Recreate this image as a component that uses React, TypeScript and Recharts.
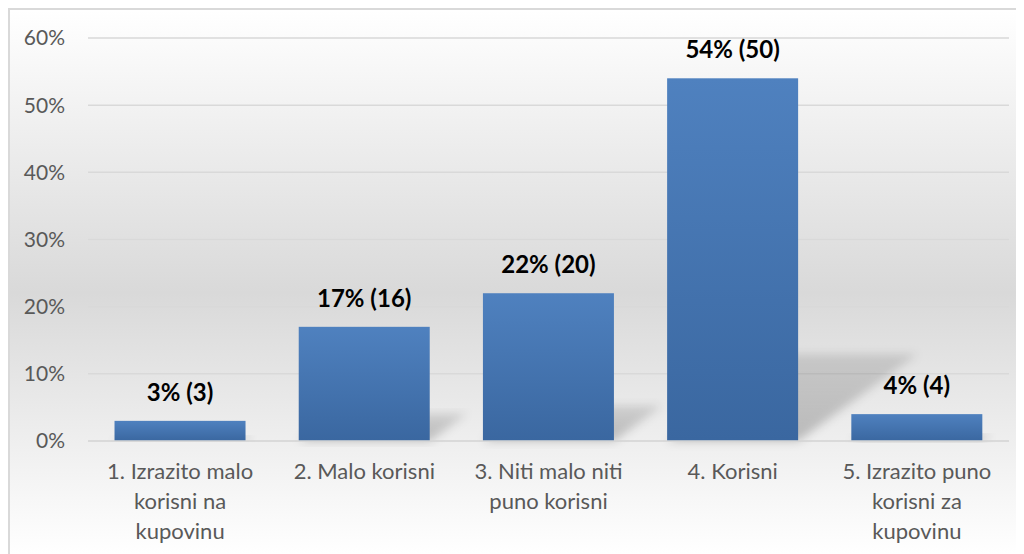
import { Bar, BarChart, CartesianGrid, LabelList, XAxis, YAxis } from 'recharts';

const categories = [
  '1. Izrazito malo\nkorisni na\nkupovinu',
  '2. Malo korisni',
  '3. Niti malo niti\npuno korisni',
  '4. Korisni',
  '5. Izrazito puno\nkorisni za\nkupovinu',
];
const percents = [3, 17, 22, 54, 4];
const counts = [3, 16, 20, 50, 4];
const yTicks = [0, 10, 20, 30, 40, 50, 60];

const data = categories.map((name, i) => ({ name, value: percents[i], count: counts[i] }));

const FONT = 'Lato, "Noto Sans", sans-serif';

function CategoryTick({ x, y, payload }: any) {
  const lines = String(payload.value).split('\n');
  return (
    <text x={x} y={y} textAnchor="middle" fill="#595959" fontSize={22} fontFamily={FONT}>
      {lines.map((line, i) => (
        <tspan key={i} x={x} dy={30}>
          {line}
        </tspan>
      ))}
    </text>
  );
}

function ShadowBar({ x, y, width, height }: any) {
  const dx = height * 0.33;
  const dy = height * 0.24;
  const base = y + height;
  const pts = `${x},${base} ${x + width},${base} ${x + width + dx},${base - dy} ${x + dx},${base - dy}`;
  return (
    <g>
      <polygon points={pts} fill="url(#shadowFill)" filter="url(#shadowBlur)" />
      <rect x={x} y={y} width={width} height={height} fill="url(#barFill)" />
    </g>
  );
}

function ValueLabel({ x, y, width, index }: any) {
  return (
    <text
      x={x + width / 2}
      y={y - 20}
      textAnchor="middle"
      fill="#000000"
      fontSize={24}
      fontWeight={700}
      fontFamily={FONT}
    >
      {`${percents[index]}% (${counts[index]})`}
    </text>
  );
}

export default function App() {
  return (
    <div
      style={{
        width: 1016,
        height: 546,
        boxSizing: 'border-box',
        borderTop: '2px solid #d9d9d9',
        borderLeft: '2px solid #d9d9d9',
        background: 'linear-gradient(to bottom, #ffffff 0%, #d9d9d9 52%, #ffffff 100%)',
        overflow: 'hidden',
      }}
    >
      <BarChart
        width={1014}
        height={544}
        data={data}
        margin={{ top: 28, right: 15, bottom: 13, left: 0 }}
        barCategoryGap="14.4%"
      >
        <defs>
          <linearGradient id="barFill" x1="0" y1="0" x2="0" y2="1">
            <stop offset="0%" stopColor="#4f81bf" />
            <stop offset="100%" stopColor="#3a67a0" />
          </linearGradient>
          <linearGradient id="shadowFill" x1="0" y1="1" x2="0" y2="0">
            <stop offset="0%" stopColor="#000000" stopOpacity={0.22} />
            <stop offset="100%" stopColor="#000000" stopOpacity={0.12} />
          </linearGradient>
          <filter id="shadowBlur" x="-20%" y="-20%" width="140%" height="140%">
            <feGaussianBlur stdDeviation="5" />
          </filter>
        </defs>
        <CartesianGrid stroke="#d9d9d9" strokeWidth={1.5} vertical={false} />
        <XAxis
          dataKey="name"
          height={100}
          interval={0}
          tickLine={false}
          axisLine={{ stroke: '#d9d9d9', strokeWidth: 1.5 }}
          tick={<CategoryTick />}
        />
        <YAxis
          width={78}
          domain={[0, 60]}
          ticks={yTicks}
          tickFormatter={(v) => `${v}%`}
          tickLine={false}
          axisLine={false}
          tickMargin={17}
          tick={{ fill: '#595959', fontSize: 21, fontFamily: FONT }}
        />
        <Bar dataKey="value" isAnimationActive={false} shape={<ShadowBar />}>
          <LabelList dataKey="value" content={<ValueLabel />} />
        </Bar>
      </BarChart>
    </div>
  );
}
